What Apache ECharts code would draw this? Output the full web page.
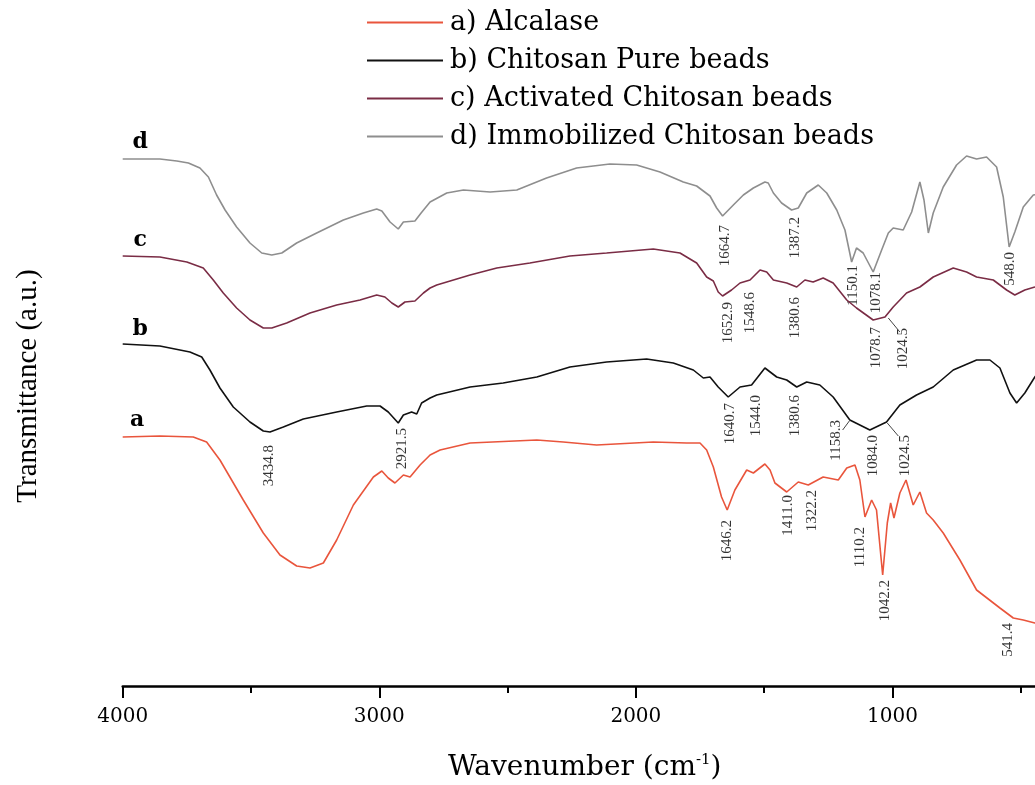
<!DOCTYPE html>
<html lang="en">
<head>
    <meta charset="UTF-8">
    <title>FTIR spectra</title>
    <script src="https://cdn.jsdelivr.net/npm/echarts@6/dist/echarts.min.js"></script>
</head>
<body style="margin:0">
<div id="chart" style="width:1035px;height:785px;"></div>
<script>
    // wavenumber (cm-1), transmittance (a.u., curves offset)
    var alcalase = [[4000,249],[3855,250],[3725,249],[3673,244],[3621,226],[3530,186],[3452,153],[3387,131],[3322,120],[3270,118],[3218,123],[3166,146],[3101,181],[3023,209],[2990,215],[2965,208],[2939,203],[2906,211],[2880,209],[2841,221],[2802,231],[2763,236],[2646,243],[2386,246],[2283,244],[2153,241],[1932,244],[1802,243],[1750,243],[1724,236],[1698,219],[1666,189],[1644,176],[1614,196],[1568,216],[1542,213],[1497,222],[1477,216],[1458,203],[1412,194],[1367,204],[1328,201],[1270,209],[1211,206],[1178,218],[1146,221],[1127,206],[1107,169],[1081,186],[1062,176],[1038,111],[1020,163],[1007,183],[994,168],[971,193],[947,206],[919,181],[893,194],[867,173],[841,166],[802,153],[737,126],[672,96],[581,78],[529,68],[490,66],[445,63],[420,62]];
    var chitosanPure = [[4000,342],[3855,340],[3738,334],[3692,329],[3660,316],[3621,298],[3569,279],[3504,264],[3452,255],[3426,254],[3374,259],[3296,267],[3166,274],[3049,280],[2997,280],[2965,274],[2926,263],[2906,271],[2874,274],[2854,272],[2835,283],[2802,288],[2776,291],[2646,299],[2517,303],[2386,309],[2257,319],[2114,324],[1958,327],[1854,323],[1776,316],[1737,308],[1711,309],[1679,299],[1640,289],[1594,299],[1549,301],[1497,318],[1451,309],[1412,306],[1373,299],[1334,304],[1283,301],[1231,289],[1166,266],[1088,256],[1023,264],[971,281],[906,291],[841,299],[763,316],[672,326],[620,326],[581,318],[542,293],[516,283],[484,293],[445,309],[420,316]];
    var activated = [[4000,430],[3855,429],[3750,424],[3686,418],[3647,406],[3608,393],[3556,378],[3504,366],[3452,358],[3419,358],[3361,363],[3270,373],[3166,381],[3075,386],[3010,391],[2978,389],[2951,383],[2926,379],[2900,384],[2861,385],[2828,393],[2802,398],[2776,401],[2646,411],[2542,418],[2413,423],[2257,430],[2114,433],[1932,437],[1828,433],[1763,423],[1724,409],[1698,405],[1679,394],[1662,390],[1627,396],[1594,403],[1555,406],[1516,416],[1490,414],[1464,406],[1412,403],[1373,399],[1341,406],[1309,404],[1270,408],[1231,403],[1178,386],[1140,378],[1075,366],[1029,369],[997,379],[945,393],[893,399],[841,409],[763,418],[711,414],[672,409],[607,406],[555,396],[523,391],[484,396],[445,399],[420,401]];
    var immobilized = [[4000,527],[3855,527],[3789,525],[3744,523],[3699,518],[3666,509],[3634,491],[3601,476],[3556,459],[3504,443],[3458,433],[3419,431],[3380,433],[3322,443],[3244,453],[3140,466],[3062,473],[3010,477],[2990,475],[2958,464],[2926,457],[2906,464],[2861,465],[2837,473],[2802,484],[2737,493],[2672,496],[2568,494],[2464,496],[2348,508],[2231,518],[2101,522],[1997,521],[1906,514],[1815,504],[1763,500],[1711,490],[1685,478],[1662,470],[1620,481],[1581,491],[1542,498],[1497,504],[1484,503],[1464,493],[1432,483],[1393,476],[1367,478],[1334,493],[1289,501],[1256,493],[1217,476],[1185,456],[1159,424],[1140,438],[1114,433],[1075,414],[1042,436],[1016,453],[997,458],[958,456],[925,474],[893,504],[877,486],[860,453],[841,473],[802,499],[750,521],[711,530],[672,527],[633,529],[594,519],[568,489],[545,439],[523,454],[490,479],[451,491],[420,492]];

    var seriesNames = ['a) Alcalase', 'b) Chitosan Pure beads', 'c) Activated Chitosan beads', 'd) Immobilized Chitosan beads'];
    var seriesColors = ['#e9553c', '#111111', '#7a2c45', '#8e8e8e'];
    var curveTags = [['a', 3944, 266], ['b', 3932, 357], ['c', 3932, 446], ['d', 3932, 544]];

    // peak annotations: [wavenumber, top of text, text]
    var peaks = [
        [3430,241,'3434.8'],[2912,258,'2921.5'],[1645,166,'1646.2'],[1407,191,'1411.0'],[1315,196,'1322.2'],
        [1127,159,'1110.2'],[1029,106,'1042.2'],[550,63,'541.4'],
        [1218,266,'1158.3'],[1077,251,'1084.0'],[951,251,'1024.5'],[1633,283,'1640.7'],[1532,291,'1544.0'],[1380,291,'1380.6'],
        [1640,384,'1652.9'],[1555,394,'1548.6'],[1380,389,'1380.6'],[1062,359,'1078.7'],[959,358,'1024.5'],
        [1653,461,'1664.7'],[1380,469,'1387.2'],[1154,421,'1150.1'],[1064,414,'1078.1'],[542,434,'548.0']
    ];
    var leaders = [[[1168,265],[1194,256]], [[1020,263],[977,250]], [[1016,368],[971,354]]];

    var curves = [alcalase, chitosanPure, activated, immobilized];

    var myChart = echarts.init(document.getElementById('chart'));
    var series = curves.map(function (d, i) {
        var tag = curveTags[i];
        return {
            name: seriesNames[i],
            type: 'line',
            data: d,
            symbol: 'none',
            color: seriesColors[i],
            lineStyle: {width: 1.6},
            markPoint: {
                symbolSize: 0,
                data: [{coord: [tag[1], tag[2]], value: tag[0]}],
                label: {
                    show: true, formatter: '{c}', color: '#000',
                    fontFamily: 'DejaVu Serif', fontWeight: 'bold', fontSize: 22
                }
            }
        };
    });
    series.push({
        type: 'scatter',
        data: peaks,
        symbolSize: 0,
        silent: true,
        label: {
            show: true,
            position: [0, 0],
            rotate: 90,
            align: 'right',
            verticalAlign: 'middle',
            formatter: function (p) { return p.data[2]; },
            color: '#000',
            fontFamily: 'Liberation Serif',
            fontSize: 15
        },
        markLine: {
            silent: true,
            symbol: 'none',
            label: {show: false},
            lineStyle: {color: '#444', width: 1, type: 'solid'},
            data: leaders.map(function (l) {
                return [{coord: l[0]}, {coord: l[1]}];
            })
        }
    });

    var option = {
        animation: false,
        backgroundColor: '#fff',
        title: {
            text: '{a|Wavenumber (cm}{s|-1}{a|)}',
            left: 443,
            top: 748,
            textStyle: {
                fontWeight: 'normal',
                rich: {
                    a: {fontFamily: 'DejaVu Serif', fontSize: 28, fontWeight: 'normal', color: '#000'},
                    s: {fontFamily: 'DejaVu Serif', fontSize: 15, fontWeight: 'normal', color: '#000', verticalAlign: 'top', padding: [0, 0, 14, 0]}
                }
            }
        },
        legend: {
            data: seriesNames,
            orient: 'vertical',
            left: 362,
            top: 4,
            icon: 'rect',
            itemWidth: 76,
            itemHeight: 2,
            itemGap: 11,
            textStyle: {fontFamily: 'DejaVu Serif', fontSize: 27, color: '#000', padding: [0, 0, 0, 2]}
        },
        grid: {left: 122.7, right: -114, top: 86, bottom: 99, outerBoundsMode: 'none'},
        xAxis: {
            type: 'value',
            inverse: true,
            min: 0,
            max: 4000,
            interval: 1000,
            splitLine: {show: false},
            axisLine: {lineStyle: {color: '#000', width: 2.5}},
            axisTick: {length: 12, lineStyle: {color: '#000', width: 2}},
            minorTick: {show: true, splitNumber: 2, length: 7, lineStyle: {color: '#000', width: 2}},
            axisLabel: {
                margin: 21,
                color: '#000',
                fontFamily: 'DejaVu Serif',
                fontSize: 20,
                formatter: function (v) { return v === 0 ? '' : v; }
            }
        },
        yAxis: {
            type: 'value',
            min: 0,
            max: 600,
            name: 'Transmittance (a.u.)',
            nameLocation: 'middle',
            nameGap: 80,
            nameTextStyle: {fontFamily: 'Liberation Serif', fontSize: 29, color: '#000'},
            axisLine: {show: false},
            axisTick: {show: false},
            axisLabel: {show: false},
            splitLine: {show: false}
        },
        series: series
    };
    myChart.setOption(option);
</script>
</body>
</html>
